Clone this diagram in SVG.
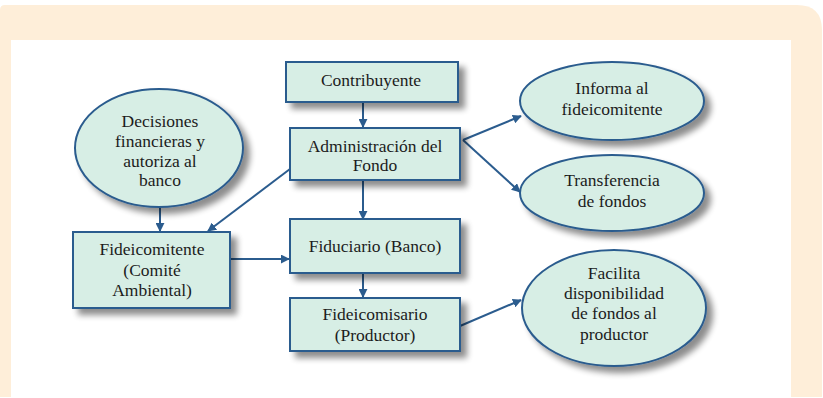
<svg xmlns="http://www.w3.org/2000/svg" width="823" height="398" viewBox="0 0 823 398">
<defs>
<filter id="sh" x="-20%" y="-20%" width="150%" height="160%">
<feGaussianBlur in="SourceAlpha" stdDeviation="3"/>
<feOffset dx="6" dy="6" result="b"/>
<feComponentTransfer in="b" result="c"><feFuncA type="linear" slope="0.45"/></feComponentTransfer>
<feMerge><feMergeNode in="c"/><feMergeNode in="SourceGraphic"/></feMerge>
</filter>
<marker id="ah" viewBox="0 0 10 10" refX="9" refY="5" markerWidth="9" markerHeight="9" orient="auto" markerUnits="userSpaceOnUse">
<path d="M0,0 L10,5 L0,10 z" fill="#2b5c8e"/>
</marker>
</defs>
<style>
.n{fill:#d7eee5;stroke:#2b5c8e;stroke-width:2;filter:url(#sh)}
.c{stroke:#2b5c8e;stroke-width:2;fill:none;marker-end:url(#ah)}
</style>
<path d="M0,10 Q0,5 5,5 L797,5 Q822,5 822,30 L822,397 L0,397 Z" fill="#feeed9"/>
<rect x="11" y="40" width="780" height="358" fill="#ffffff"/>
<g id="connectors">
<line class="c" x1="363" y1="102" x2="363" y2="127"/>
<line class="c" x1="363" y1="180" x2="363" y2="219"/>
<line class="c" x1="363" y1="273" x2="363" y2="297"/>
<line class="c" x1="290" y1="169" x2="208" y2="231"/>
<line class="c" x1="160" y1="207" x2="160" y2="231"/>
<line class="c" x1="230" y1="259" x2="289" y2="259"/>
<line class="c" x1="463" y1="140" x2="521" y2="116"/>
<line class="c" x1="463" y1="140" x2="520" y2="192"/>
<line class="c" x1="460" y1="326" x2="521" y2="300"/>
</g>
<g font-family="Liberation Serif" font-size="17.5" fill="#1c1c1c" text-anchor="middle" style="font-family:'Liberation Serif';font-size:17.5px">
<g id="decisiones">
<ellipse class="n" cx="159" cy="148" rx="84" ry="59"/>
<text x="160" y="127">Decisiones</text>
<text x="160" y="147">financieras y</text>
<text x="160" y="167">autoriza al</text>
<text x="160" y="186">banco</text>
</g>
<g id="contribuyente">
<rect class="n" x="286" y="62" width="172" height="40"/>
<text x="371" y="86">Contribuyente</text>
</g>
<g id="administracion">
<rect class="n" x="290" y="128" width="170" height="52"/>
<text x="375" y="152">Administración del</text>
<text x="375" y="171">Fondo</text>
</g>
<g id="fideicomitente">
<rect class="n" x="73" y="232" width="157" height="76"/>
<text x="152" y="255">Fideicomitente</text>
<text x="152" y="276">(Comité</text>
<text x="152" y="296">Ambiental)</text>
</g>
<g id="fiduciario">
<rect class="n" x="290" y="219" width="170" height="54"/>
<text x="375" y="252">Fiduciario (Banco)</text>
</g>
<g id="fideicomisario">
<rect class="n" x="290" y="298" width="170" height="53"/>
<text x="375" y="320">Fideicomisario</text>
<text x="375" y="341">(Productor)</text>
</g>
<g id="informa">
<ellipse class="n" cx="612" cy="101" rx="92" ry="39"/>
<text x="612" y="94">Informa al</text>
<text x="612" y="115">fideicomitente</text>
</g>
<g id="transferencia">
<ellipse class="n" cx="612" cy="193" rx="92" ry="38"/>
<text x="612" y="186">Transferencia</text>
<text x="612" y="207">de fondos</text>
</g>
<g id="facilita">
<ellipse class="n" cx="614" cy="308" rx="92" ry="58"/>
<text x="614" y="279">Facilita</text>
<text x="614" y="299">disponibilidad</text>
<text x="614" y="319">de fondos al</text>
<text x="614" y="340">productor</text>
</g>
</g>
</svg>
